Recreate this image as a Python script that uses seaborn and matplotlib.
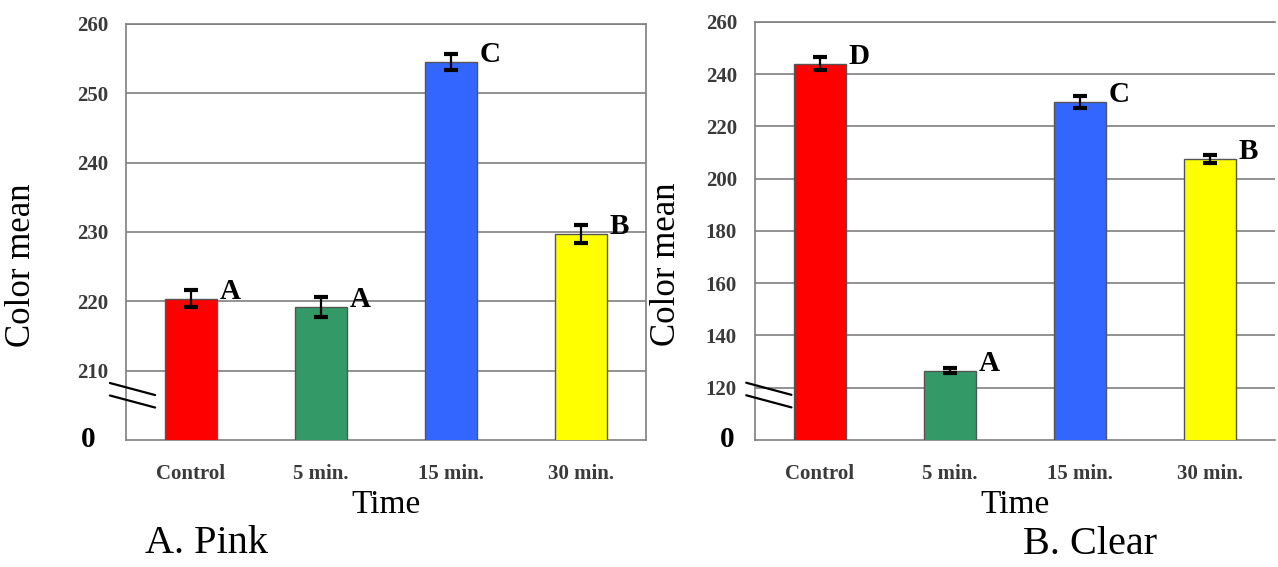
import matplotlib
matplotlib.use("Agg")
import matplotlib.pyplot as plt
import seaborn as sns
import pandas as pd

# =========================
# Dados
# =========================
categories = ["Control", "5 min.", "15 min.", "30 min."]
bar_colors = ["#FF0000", "#339966", "#3366FF", "#FFFF00"]

pink_mean = [220.4, 219.2, 254.5, 229.7]
pink_err = [1.2, 1.4, 1.2, 1.3]
pink_letters = ["A", "A", "C", "B"]
pink_ticks = [210, 220, 230, 240, 250, 260]

clear_mean = [244.0, 126.5, 229.3, 207.5]
clear_err = [2.5, 0.9, 2.2, 1.5]
clear_letters = ["D", "A", "C", "B"]
clear_ticks = [120, 140, 160, 180, 200, 220, 240, 260]

sns.set_style("white")
plt.rcParams["font.family"] = ["Liberation Serif", "DejaVu Serif"]
plt.rcParams["text.color"] = "black"
plt.rcParams["axes.labelcolor"] = "black"

fig = plt.figure(figsize=(12.78, 5.67), dpi=100)

ax1 = fig.add_axes([0.0986, 0.224, 0.4069, 0.7337])
ax2 = fig.add_axes([0.5908, 0.224, 0.4069, 0.7373])

grid_c = "#7f7f7f"


def draw_panel(ax, means, errs, letters, ticks, ybottom, title,
               show_right, zero_x, brk_x, ylab_x, title_x):
    df = pd.DataFrame({"Time": categories, "mean": means})
    sns.barplot(
        data=df, x="Time", y="mean", hue="Time",
        palette=bar_colors, legend=False, saturation=1,
        width=0.4, edgecolor="#555555", linewidth=1.0,
        ax=ax, zorder=3
    )
    ax.errorbar(
        categories, means, yerr=errs,
        fmt="none", ecolor="black", elinewidth=1.6,
        capsize=5, capthick=3, zorder=4
    )
    # letras de significancia
    for i, (m, letter) in enumerate(zip(means, letters)):
        ax.annotate(
            letter, (i + 0.2, m), xytext=(2, 0), textcoords="offset points",
            ha="left", va="baseline", fontsize=21, fontweight="bold",
            color="black", zorder=5
        )

    ax.set_xlim(-0.5, 3.5)
    ax.set_ylim(ybottom, 260)
    ax.set_yticks(ticks)
    ax.set_yticklabels([str(t) for t in ticks], fontsize=15,
                       fontweight="bold", color="#3a3a3a")
    ax.yaxis.grid(True, color=grid_c, linewidth=1.2, zorder=0)
    ax.set_axisbelow(True)

    ax.set_xticks(range(4))
    ax.set_xticklabels(categories, fontsize=15, fontweight="bold",
                       color="#3a3a3a")
    ax.tick_params(axis="x", length=0, pad=17)
    ax.set_xticks([0.5, 1.5, 2.5], minor=True)
    ax.tick_params(axis="x", which="minor", direction="out", length=8,
                   width=1.2, color=grid_c)
    ax.tick_params(axis="y", direction="out", length=7, width=1.2,
                   color=grid_c, pad=6)

    for side in ["left", "bottom", "top", "right"]:
        ax.spines[side].set_color(grid_c)
        ax.spines[side].set_linewidth(1.2)
    ax.spines["right"].set_visible(show_right)

    ax.set_xlabel("Time", fontsize=24, labelpad=4)
    ax.set_ylabel("Color mean", fontsize=25)
    ax.yaxis.set_label_coords(ylab_x, 0.42)

    # zero com quebra de eixo
    ax.text(zero_x, 0.0, "0", transform=ax.transAxes, fontsize=21,
            fontweight="bold", ha="right", va="center")
    for dy in [0.0, 0.03]:
        ax.plot([brk_x, brk_x + 0.087], [0.137 - dy, 0.108 - dy],
                transform=ax.transAxes, color="black", linewidth=1.6,
                clip_on=False, zorder=6)

    ax.text(title_x, -0.25, title, transform=ax.transAxes, fontsize=29,
            ha="center", va="center")


draw_panel(ax1, pink_mean, pink_err, pink_letters, pink_ticks, 200,
           "A. Pink", True, -0.058, -0.031, -0.17, 0.155)
draw_panel(ax2, clear_mean, clear_err, clear_letters, clear_ticks, 100,
           "B. Clear", False, -0.04, -0.017, -0.138, 0.645)

plt.savefig("out.png", dpi=100)
